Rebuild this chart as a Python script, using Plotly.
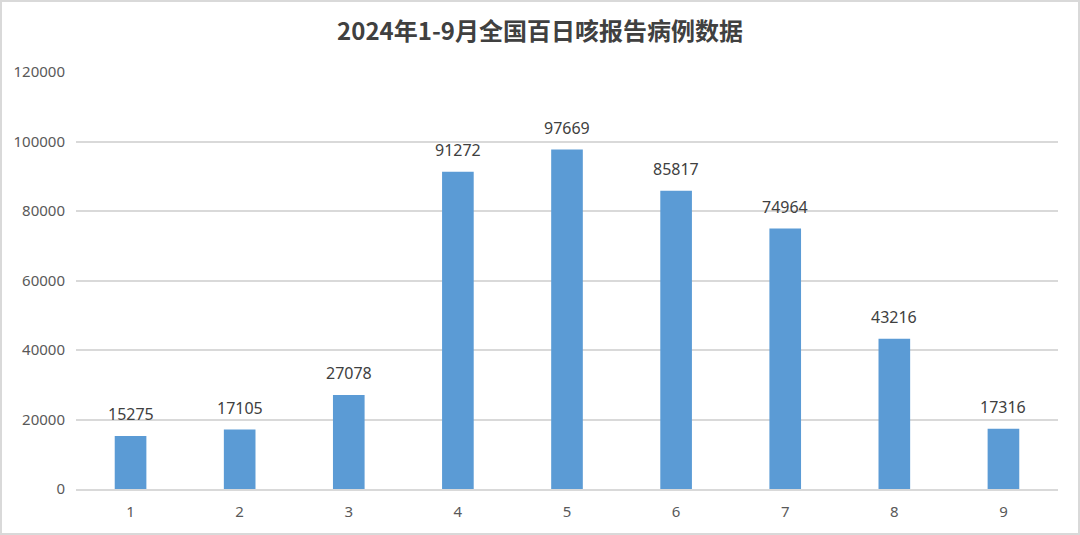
import plotly.graph_objects as go

# 2024年1-9月全国百日咳报告病例
months = [1, 2, 3, 4, 5, 6, 7, 8, 9]
cases = [15275, 17105, 27078, 91272, 97669, 85817, 74964, 43216, 17316]
y_ticks = [0, 20000, 40000, 60000, 80000, 100000, 120000]

W, H = 1080, 535
ml, mr, mt, mb = 76, 22, 72, 46
pw, ph = W - ml - mr, H - mt - mb

fig = go.Figure()
fig.add_trace(go.Bar(
    x=months,
    y=cases,
    marker=dict(color="#5b9bd5", line=dict(width=0)),
    hoverinfo="x+y",
))

# value labels above each bar
for m, v in zip(months, cases):
    fig.add_annotation(
        x=m, y=v, text=str(v), showarrow=False,
        yanchor="bottom", yshift=9,
        font=dict(family="Noto Sans, Noto Sans CJK SC", size=16, color="#404040"),
    )

fig.update_layout(
    width=W, height=H,
    margin=dict(l=ml, r=mr, t=mt, b=mb),
    paper_bgcolor="white",
    plot_bgcolor="white",
    bargap=0.71,
    showlegend=False,
    title=dict(
        text="<b>2024年1-9月全国百日咳报告病例数据</b>",
        x=0.5, xanchor="center", y=1 - 32 / H, yanchor="middle",
        font=dict(family="Noto Sans CJK SC", size=24, color="#404040"),
    ),
    xaxis=dict(
        range=[months[0] - 0.5, months[-1] + 0.5],
        tickvals=months,
        ticktext=[str(m) for m in months],
        showgrid=False, zeroline=False,
        showline=True, linecolor="#d9d9d9", linewidth=1.5,
        ticks="", tickfont=dict(family="Noto Sans, Noto Sans CJK SC", size=15, color="#595959"),
        ticklabelstandoff=8,
    ),
    yaxis=dict(
        range=[0, 120000],
        tickvals=y_ticks,
        ticktext=[str(v) for v in y_ticks],
        showgrid=True, gridcolor="#d9d9d9", gridwidth=1.5,
        zeroline=False, showline=False, ticks="",
        tickfont=dict(family="Noto Sans, Noto Sans CJK SC", size=15, color="#595959"),
        ticklabelstandoff=10,
    ),
    shapes=[dict(
        type="rect", xref="paper", yref="paper",
        x0=(1 - ml) / pw, x1=(W - 1 - ml) / pw,
        y0=-(mb - 1) / ph, y1=1 + (mt - 1) / ph,
        line=dict(color="#d9d9d9", width=2), fillcolor="rgba(0,0,0,0)",
        layer="below",
    )],
)

fig.write_html(
    "out.html",
    config={"displayModeBar": False},
    post_script="document.body.style.margin='0';document.body.style.overflow='hidden';",
)
